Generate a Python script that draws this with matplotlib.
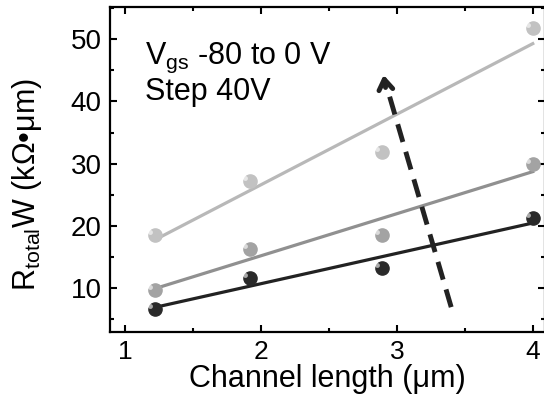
import numpy as np
import matplotlib
matplotlib.use("Agg")
import matplotlib.pyplot as plt

# channel lengths (um)
length = [1.22, 1.92, 2.89, 4.0]
# R_total * W (kOhm um) for Vgs steps
r_dark = [6.6, 11.6, 13.2, 21.2]
r_mid = [9.7, 16.3, 18.5, 29.9]
r_light = [18.5, 27.2, 31.9, 51.8]

series = [
    (r_dark, "#2a2a2a", "#222222"),
    (r_mid, "#a3a3a3", "#909090"),
    (r_light, "#c2c2c2", "#b8b8b8"),
]

# arrow tail / head in data coords
arrow_x = [3.40, 2.92]
arrow_y = [6.9, 42.8]

plt.rcParams['font.family'] = ['Liberation Sans', 'DejaVu Sans']
plt.rcParams['mathtext.fontset'] = 'custom'
plt.rcParams['mathtext.rm'] = 'Liberation Sans'
plt.rcParams['mathtext.it'] = 'Liberation Sans'

fig = plt.figure(figsize=(5.44, 4.09), dpi=100)
ax = fig.add_axes([110 / 544, 77 / 409, 435 / 544, 325 / 409])

xfit = np.array([min(length), max(length)])
for y, mcol, lcol in series:
    k, b = np.polyfit(length, y, 1)
    ax.plot(xfit, k * xfit + b, color=lcol, lw=2.3, zorder=2)
    ax.plot(length, y, 'o', ms=9.5, color=mcol, mec=mcol, zorder=3)
    # small highlight to fake the shaded balls
    ax.plot(np.array(length) - 0.035, np.array(y) + 0.45, 'o', ms=3.5,
            color='white', alpha=0.6, mec='none', zorder=4)

ax.plot(arrow_x, arrow_y, color='#222222', lw=3.5, dashes=(3.8, 2.1),
        zorder=5)
ax.annotate('', xy=(arrow_x[1] - 0.02, arrow_y[1] + 1.9),
            xytext=(arrow_x[1], arrow_y[1] - 1.0),
            arrowprops=dict(arrowstyle='->,head_length=0.75,head_width=0.5',
                            color='#222222', lw=3.5), zorder=5)

ax.text(1.147, 46.1, r'V$_{\rm gs}$ -80 to 0 V', fontsize=22, va='baseline')
ax.text(1.147, 40.2, 'Step 40V', fontsize=22, va='baseline')

ax.set_xlim(0.89, 4.09)
ax.set_ylim(2.9, 55.2)
ax.set_xticks([1, 2, 3, 4])
ax.set_yticks([10, 20, 30, 40, 50])
ax.set_xticks([1.5, 2.5, 3.5], minor=True)
ax.set_yticks([5, 15, 25, 35, 45, 55], minor=True)
ax.tick_params(which='both', direction='in', top=True, right=True,
               width=1.5, labelsize=20)
ax.tick_params(which='major', length=5)
ax.tick_params(which='minor', length=3)
ax.tick_params(axis='x', pad=6, labelsize=19)
ax.tick_params(axis='y', pad=6)
for s in ax.spines.values():
    s.set_linewidth(1.6)

ax.set_xlabel('Channel length (μm)', fontsize=22, labelpad=0)
ax.set_ylabel(r'R$_{\rm total}$W (kΩ•μm)', fontsize=22)
ax.yaxis.set_label_coords(-0.152, 0.455)

fig.savefig('out.png', dpi=100)
